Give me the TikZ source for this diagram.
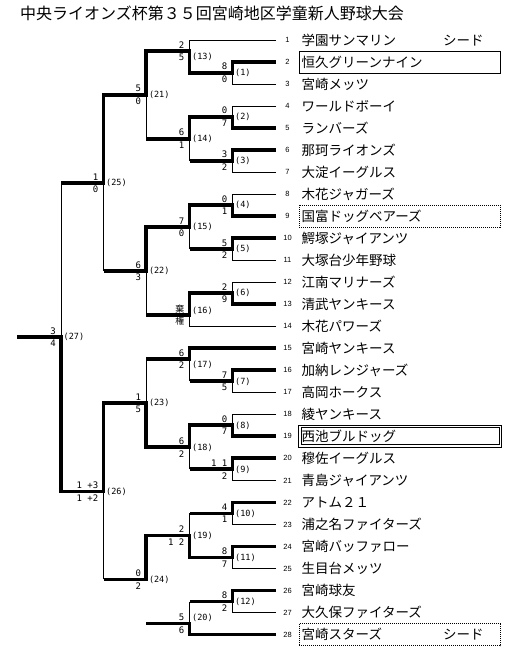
\documentclass[tikz,border=0pt]{standalone}
\usepackage{fontspec}
\setmainfont{Liberation Sans}
\newfontfamily\jpfont{Noto Sans CJK JP}
\newfontfamily\monofont{DejaVu Sans Mono}
\begin{document}
\begin{tikzpicture}[x=1pt,y=-1pt,
  win/.style={line width=3.8pt,line join=miter},
  lose/.style={line width=1pt},
  num/.style={inner sep=0pt,font=\fontsize{7.5}{7.5}\selectfont},
  team/.style={inner sep=0pt,anchor=base west,font=\jpfont\fontsize{13.5}{14}\selectfont},
  titletxt/.style={inner sep=0pt,anchor=base west,font=\jpfont\fontsize{16}{17}\selectfont},
  mlabel/.style={inner sep=0pt,anchor=west,font=\monofont\fontsize{8.5}{9}\selectfont},
  sctop/.style={inner sep=0pt,anchor=south east,font=\monofont\fontsize{9}{9}\selectfont},
  scbot/.style={inner sep=0pt,anchor=north east,font=\monofont\fontsize{9}{9}\selectfont},
  jpsmall/.style={inner sep=0pt,font=\jpfont\fontsize{9}{9}\selectfont},
  sbox/.style={draw,line width=0.9pt,minimum width=201pt,minimum height=22pt,inner sep=0pt},
  dotbox/.style={sbox,dash pattern=on 1pt off 1pt},
]
\useasboundingbox[fill=white] (0,0) rectangle (517,657);

% title
\node[titletxt] (title) at (20,19) {中央ライオンズ杯第３５回宮崎地区学童新人野球大会};

% teams
\foreach \i/\nm in {1/学園サンマリン,2/恒久グリーンナイン,3/宮崎メッツ,4/ワールドボーイ,5/ランバーズ,6/那珂ライオンズ,7/大淀イーグルス,8/木花ジャガーズ,9/国富ドッグベアーズ,10/鰐塚ジャイアンツ,11/大塚台少年野球,12/江南マリナーズ,13/清武ヤンキース,14/木花パワーズ,15/宮崎ヤンキース,16/加納レンジャーズ,17/高岡ホークス,18/綾ヤンキース,19/西池ブルドッグ,20/穆佐イーグルス,21/青島ジャイアンツ,22/アトム２１,23/浦之名ファイターズ,24/宮崎バッファロー,25/生目台メッツ,26/宮崎球友,27/大久保ファイターズ,28/宮崎スターズ}{
  \pgfmathsetmacro\yy{40+22.02*(\i-1)}
  \coordinate (e\i) at (276,\yy);
  \node[num] (n\i) at (287.5,\yy) {\i};
  \node[team] (t\i) at (301.5,\yy+5) {\nm};
}
\node[team] (seed1) at (443,45) {シード};
\node[team] (seed28) at (443,639.54) {シード};

% boxes
\node[sbox] (B2) at (399.5,62.02) {};
\node[dotbox] (B9) at (399.5,216.16) {};
\node[draw,line width=0.9pt,minimum width=203pt,minimum height=22pt,inner sep=0pt] (B19o) at (400,436.36) {};
\node[draw,line width=0.9pt,minimum width=198pt,minimum height=17pt,inner sep=0pt] (B19i) at (400,436.36) {};
\node[dotbox] (B28) at (399.5,634.54) {};

% match points
\foreach \m/\x/\y in {1/232.5/73.03,2/232.5/117.07,3/232.5/161.11,4/232.5/205.15,5/232.5/249.19,6/232.5/293.23,
  7/232.5/381.31,8/232.5/425.35,9/232.5/469.39,10/232.5/513.43,11/232.5/557.47,12/232.5/601.51,
  13/189.5/51.01,14/189.5/139.09,15/189.5/227.17,16/189.5/315.25,17/189.5/359.29,18/189.5/447.37,19/189.5/535.45,20/189.5/623.53,
  21/146.3/95.05,22/146.3/271.21,23/146.3/403.33,24/146.3/579.49,
  25/103.5/183.13,26/103.5/491.41,27/61/337.27}{
  \coordinate (m\m) at (\x,\y);
}
\coordinate (champ) at (17,337.27);

% match labels
\foreach \m/\x/\y in {1/232.5/72.5,2/232.5/117.07,3/232.5/161.11,4/232.5/205.15,5/232.5/249.19,6/232.5/293.23,
  7/232.5/381.8,8/232.5/425.35,9/232.5/469.39,10/232.5/513.43,11/232.5/557.47,12/232.5/601.51,
  13/189.5/56.5,14/189.5/139.09,15/189.5/227.17,16/189.5/310.5,17/189.5/364.8,18/189.5/447.37,19/189.5/535.45,20/189.5/618,
  21/146.3/95.05,22/146.3/271.21,23/146.3/402.5,24/146.3/579.49,
  25/103.5/183.13,26/103.5/491.41,27/61/337.27}{
  \node[mlabel] (L\m) at (\x+2.5,\y) {(\m)};
}

% scores
\foreach \m/\x/\y/\a/\b in {1/232.5/73.03/8/0,2/232.5/117.07/0/7,3/232.5/161.11/3/2,4/232.5/205.15/0/1,5/232.5/249.19/5/2,6/232.5/293.23/2/9,
  7/232.5/381.31/7/5,8/232.5/425.35/0/7,9/232.5/469.39/1 1/2,10/232.5/513.43/4/1,11/232.5/557.47/8/7,12/232.5/601.51/8/2,
  13/189.5/51.01/2/5,14/189.5/139.09/6/1,15/189.5/227.17/7/0,17/189.5/359.29/6/2,18/189.5/447.37/6/2,19/189.5/535.45/2/1 2,20/189.5/623.53/5/6,
  21/146.3/95.05/5/0,22/146.3/271.21/6/3,23/146.3/403.33/1/5,24/146.3/579.49/0/2,
  25/103.5/183.13/1/0,26/103.5/491.41/1 +3/1 +2,27/61/337.27/3/4}{
  \node[sctop] (sa\m) at (\x-5,\y-2.8) {\a};
  \node[scbot] (sb\m) at (\x-5,\y+2.8) {\b};
}
\node[jpsmall,anchor=south east] (sa16) at (184.5,313.5) {棄};
\node[jpsmall,anchor=north east] (sb16) at (184.5,316.5) {権};

% thin (losing) lines
\draw[lose] (e1) -| (m13);
\draw[lose] (e3) -| (m1);
\draw[lose] (e4) -| (m2);
\draw[lose] (e7) -| (m3);
\draw[lose] (e8) -| (m4);
\draw[lose] (e11) -| (m5);
\draw[lose] (e12) -| (m6);
\draw[lose] (e14) -| (m16);
\draw[lose] (e17) -| (m7);
\draw[lose] (e18) -| (m8);
\draw[lose] (e21) -| (m9);
\draw[lose] (e23) -| (m10);
\draw[lose] (e25) -| (m11);
\draw[lose] (e27) -| (m12);
\draw[lose] (m3 -| m14) -- (m14);
\draw[lose] (m14 -| m21) -- (m21);
\draw[lose] (m5 -| m15) -- (m15);
\draw[lose] (m16 -| m22) -- (m22);
\draw[lose] (m22 -| m25) -- (m25);
\draw[lose] (m25 -| m27) -- (m27);
\draw[lose] (m7 -| m17) -- (m17);
\draw[lose] (m9 -| m18) -- (m18);
\draw[lose] (m17 -| m23) -- (m23);
\draw[lose] (m10 -| m19) -- (m19);
\draw[lose] (m12 -| m20) -- (m20);
\draw[lose] (m19 -| m24) -- (m24);
\draw[lose] (m24 -| m26) -- (m26);

% thick (winning) paths
\draw[win] (e2) -| (m1) -| (m13) -| (m21) -| (m25) -- (m25 -| m27);
\draw[win] (e5) -| (m2) -| (m14) -- (m14 -| m21);
\draw[win] (e6) -| (m3) -- (m3 -| m14);
\draw[win] (e9) -| (m4) -| (m15) -| (m22) -- (m22 -| m25);
\draw[win] (e10) -| (m5) -- (m5 -| m15);
\draw[win] (e13) -| (m6) -| (m16) -- (m16 -| m22);
\draw[win] (e15) -| (m17) -- (m17 -| m23);
\draw[win] (e16) -| (m7) -- (m7 -| m17);
\draw[win] (e19) -| (m8) -| (m18) -| (m23) -| (m26) -| (m27) -- (champ);
\draw[win] (e20) -| (m9) -- (m9 -| m18);
\draw[win] (e22) -| (m10) -- (m10 -| m19);
\draw[win] (e24) -| (m11) -| (m19) -| (m24) -- (m24 -| m26);
\draw[win] (e26) -| (m12) -- (m12 -| m20);
\draw[win] (e28) -| (m20) -- (m20 -| m24);
\end{tikzpicture}
\end{document}
